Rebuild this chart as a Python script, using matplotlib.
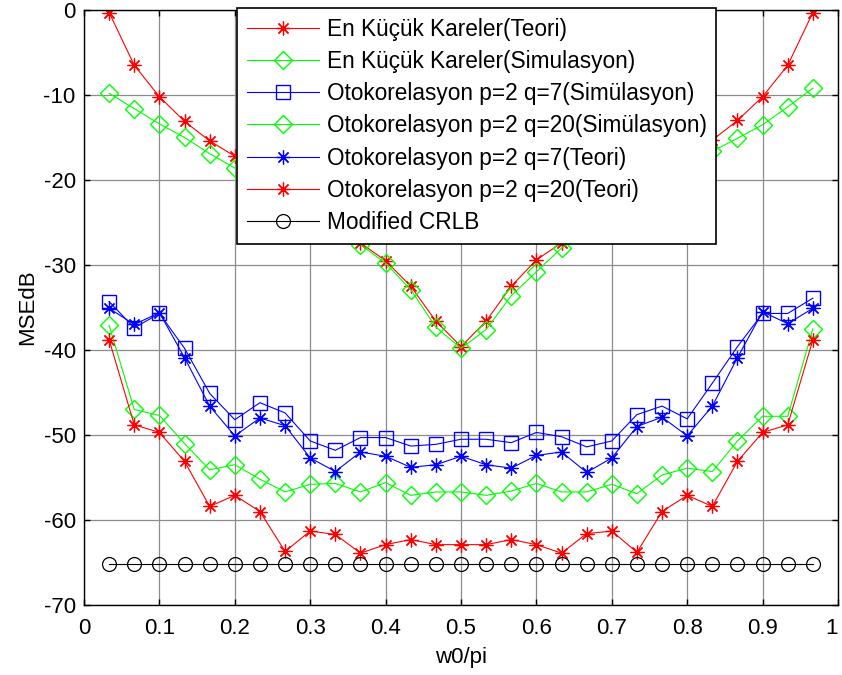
import numpy as np
import matplotlib
matplotlib.use("Agg")
import matplotlib.pyplot as plt

plt.rcParams['font.family'] = ['Liberation Sans', 'DejaVu Sans']
plt.rcParams['axes.unicode_minus'] = False

# normalized frequency w0/pi, k/30 for k = 1..29
w0 = np.arange(1, 30) / 30.0

ls_teori = [-0.3, -6.5, -10.2, -13.1, -15.4, -17.2, -19.3, -21.5, -23.6, -25.6,
            -27.4, -29.5, -32.5, -36.6, -39.6, -36.6, -32.5, -29.4, -27.4, -25.6,
            -23.6, -21.5, -19.3, -17.2, -15.3, -13.0, -10.2, -6.5, -0.3]
ls_sim = [-9.8, -11.6, -13.4, -15.0, -16.9, -18.6, -20.4, -22.3, -24.3, -26.2,
          -27.6, -29.8, -32.9, -37.3, -39.8, -37.6, -33.6, -30.8, -28.0, -26.2,
          -24.3, -22.3, -20.4, -18.5, -16.6, -15.1, -13.5, -11.4, -9.2]
oto_q7_sim = [-34.3, -37.4, -35.7, -39.8, -45.1, -48.2, -46.2, -47.4, -50.7, -51.8,
              -50.3, -50.3, -51.3, -51.1, -50.5, -50.5, -50.9, -49.7, -50.2, -51.4,
              -50.7, -47.6, -46.6, -48.1, -43.9, -39.6, -35.7, -35.7, -33.9]
oto_q20_sim = [-37.1, -47.0, -47.7, -51.0, -54.1, -53.5, -55.2, -56.7, -55.8, -55.7,
               -56.7, -55.6, -57.1, -56.7, -56.7, -57.1, -56.6, -55.7, -56.7, -56.7,
               -55.8, -56.9, -54.7, -53.9, -54.3, -50.7, -47.8, -47.8, -37.5]
oto_q7_teori = [-35.1, -37.0, -35.6, -40.9, -46.6, -50.1, -48.0, -48.9, -52.7, -54.3,
                -52.0, -52.5, -53.8, -53.5, -52.5, -53.5, -53.9, -52.4, -52.0, -54.4,
                -52.7, -49.0, -47.9, -50.1, -46.6, -40.9, -35.5, -36.9, -35.1]
oto_q20_teori = [-38.8, -48.8, -49.7, -53.1, -58.4, -57.1, -59.0, -63.7, -61.3, -61.7,
                 -63.9, -62.9, -62.3, -62.9, -62.9, -62.9, -62.3, -62.9, -63.9, -61.6,
                 -61.3, -63.8, -59.0, -57.1, -58.4, -53.1, -49.7, -48.8, -38.8]
crlb = [-65.2, -65.2, -65.2, -65.2, -65.2, -65.2, -65.2, -65.2, -65.2, -65.2,
        -65.2, -65.2, -65.2, -65.2, -65.2, -65.2, -65.2, -65.2, -65.2, -65.2,
        -65.2, -65.2, -65.2, -65.2, -65.2, -65.2, -65.2, -65.2, -65.2]

labels = ["En Küçük Kareler(Teori)",
          "En Küçük Kareler(Simulasyon)",
          "Otokorelasyon p=2 q=7(Simülasyon)",
          "Otokorelasyon p=2 q=20(Simülasyon)",
          "Otokorelasyon p=2 q=7(Teori)",
          "Otokorelasyon p=2 q=20(Teori)",
          "Modified CRLB"]

RED = "#ff0000"
GREEN = "#00ff00"
BLUE = "#0000ff"
star = (8, 2, 0)

fig = plt.figure(figsize=(8.42, 6.75), dpi=100)
ax = fig.add_axes([84 / 842, 1 - 605 / 675, 754 / 842, 595 / 675])

lw = 0.8
ax.plot(w0, ls_teori, color=RED, lw=lw, marker=star, ms=10, mew=0.9, label=labels[0])
ax.plot(w0, ls_sim, color=GREEN, lw=lw, marker="D", ms=9, mfc="none", mew=1.0, label=labels[1])
ax.plot(w0, oto_q7_sim, color=BLUE, lw=lw, marker="s", ms=10, mfc="none", mew=1.0, label=labels[2])
ax.plot(w0, oto_q20_sim, color=GREEN, lw=lw, marker="D", ms=9, mfc="none", mew=1.0, label=labels[3])
ax.plot(w0, oto_q7_teori, color=BLUE, lw=lw, marker=star, ms=10, mew=0.9, label=labels[4])
ax.plot(w0, oto_q20_teori, color=RED, lw=lw, marker=star, ms=10, mew=0.9, label=labels[5])
ax.plot(w0, crlb, color="black", lw=lw, marker="o", ms=10, mfc="none", mew=0.9, label=labels[6])

ax.set_xlim(0, 1)
ax.set_ylim(-70, 0)
ax.set_xticks(np.arange(0, 1.01, 0.1))
ax.set_xticklabels(["0", "0.1", "0.2", "0.3", "0.4", "0.5", "0.6", "0.7", "0.8", "0.9", "1"])
ax.get_xticklabels()[-1].set_horizontalalignment("right")
ax.set_yticks(np.arange(-70, 1, 10))
ax.grid(True, color="0.55", lw=0.9)
ax.set_axisbelow(True)
ax.tick_params(direction="in", length=4, width=1, top=True, right=True, labelsize=16)
ax.tick_params(axis="x", pad=9)
ax.tick_params(axis="y", pad=6)
for s in ax.spines.values():
    s.set_linewidth(1.0)
ax.set_xlabel("w0/pi", fontsize=16, labelpad=6)
ax.set_ylabel("MSEdB", fontsize=16, labelpad=4)

leg = ax.legend(loc="upper left", bbox_to_anchor=(237 / 842, 1 - 8 / 675),
                bbox_transform=fig.transFigure, borderaxespad=0, fontsize=16.3,
                fancybox=False, framealpha=1, edgecolor="black", handlelength=3.2,
                handletextpad=0.35, labelspacing=0.41, borderpad=0.42)
leg.get_frame().set_linewidth(1.2)

fig.savefig("out.png", dpi=100)
